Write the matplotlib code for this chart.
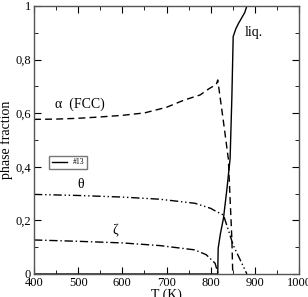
import matplotlib
matplotlib.use("Agg")
import matplotlib.pyplot as plt
from matplotlib.ticker import MultipleLocator, FuncFormatter

plt.rcParams['font.family'] = ['Liberation Serif', 'DejaVu Serif']

# Liquid phase
T_liq = [400, 816, 817, 822, 829, 837, 844, 848, 851, 857, 863, 870, 877, 882, 1000]
f_liq = [0, 0, 0.096, 0.15, 0.208, 0.32, 0.43, 0.66, 0.886, 0.915, 0.935, 0.955, 0.975, 1.0, 1.0]

# alpha (FCC)
T_alpha = [400, 450, 500, 550, 600, 650, 700, 740, 776, 795, 813, 816, 828, 840, 848, 850]
f_alpha = [0.577, 0.578, 0.581, 0.586, 0.592, 0.601, 0.622, 0.649, 0.668, 0.69, 0.708, 0.724, 0.58, 0.43, 0.13, 0.0]

# theta
T_theta = [400, 500, 600, 685, 764, 800, 813, 829, 851, 882]
f_theta = [0.297, 0.293, 0.287, 0.279, 0.264, 0.245, 0.233, 0.22, 0.108, 0.0]

# zeta
T_zeta = [400, 500, 600, 685, 764, 790, 810, 817]
f_zeta = [0.127, 0.122, 0.116, 0.106, 0.09, 0.072, 0.04, 0.0]

x_ticks = [400, 500, 600, 700, 800, 900, 1000]
y_ticks = [0, 0.2, 0.4, 0.6, 0.8, 1.0]

fig = plt.figure(figsize=(3.08, 2.97), dpi=100)
ax = fig.add_axes([34/308, 1 - 274/297, (299 - 34)/308, (274 - 6)/297])

lw = 1.0
liq_line, = ax.plot(T_liq, f_liq, color='black', lw=lw, label='#13')
ax.plot(T_alpha, f_alpha, color='black', lw=lw, linestyle=(0, (5, 3)))
ax.plot(T_theta, f_theta, color='black', lw=lw, linestyle=(0, (6, 2, 1, 2, 1, 2)))
ax.plot(T_zeta, f_zeta, color='black', lw=lw, linestyle=(0, (6, 2, 1, 2)))

ax.set_xlim(400, 1000)
ax.set_ylim(0, 1)
ax.set_xticks(x_ticks)
ax.set_yticks(y_ticks)
ax.xaxis.set_minor_locator(MultipleLocator(50))
ax.yaxis.set_minor_locator(MultipleLocator(0.1))

def yfmt(v, pos):
    if abs(v) < 1e-9:
        return '0'
    if abs(v - 1) < 1e-9:
        return '1'
    return ('%.1f' % v).replace('.', ',')

ax.yaxis.set_major_formatter(FuncFormatter(yfmt))
ax.tick_params(which='both', direction='in', top=True, right=True, labelsize=9, pad=2)
ax.tick_params(which='major', length=5)
ax.tick_params(which='minor', length=3)
for s in ax.spines.values():
    s.set_color('#555555')
    s.set_linewidth(1.0)

ax.set_xlabel('T (K)', fontsize=10, labelpad=0)
ax.set_ylabel('phase fraction', fontsize=10, labelpad=2)

ax.text(447, 0.634, 'α  (FCC)', fontsize=10, va='center', ha='left')
ax.text(506, 0.335, 'θ', fontsize=10, va='center', ha='center')
ax.text(583, 0.16, 'ζ', fontsize=10, va='center', ha='center')
ax.text(876, 0.9, 'liq.', fontsize=10, va='center', ha='left')

leg = ax.legend(handles=[liq_line], loc='lower left', bbox_to_anchor=(0.057, 0.392),
                fontsize=5.5, frameon=True, fancybox=False, handlelength=2.0,
                borderpad=0.35, handletextpad=0.7, borderaxespad=0)
leg.get_frame().set_edgecolor('#555555')
leg.get_frame().set_linewidth(1.0)

fig.savefig('out.png', dpi=100)
